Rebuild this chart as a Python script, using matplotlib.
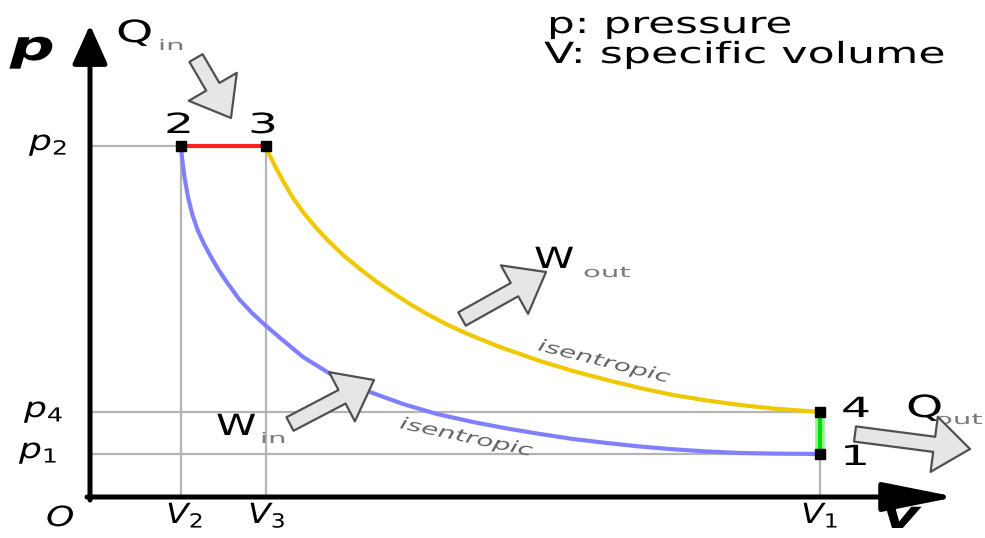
import matplotlib.pyplot as plt
from matplotlib.patches import FancyArrowPatch
from matplotlib.patheffects import AbstractPathEffect
from matplotlib.transforms import Affine2D

# state points (V in units of V2, p in units of p1)
V1, V2, V3 = 8.022, 1.000, 1.934
p1, p2, p4 = 1.000, 8.000, 1.955

# compression 1-2 (blue)
comp_V = [1.000, 1.014, 1.038, 1.077, 1.126, 1.187, 1.253, 1.330, 1.407, 1.495,
          1.637, 1.780, 1.923, 2.077, 2.341, 2.714, 3.077, 3.440, 3.813, 4.209,
          4.582, 4.945, 5.308, 5.681, 6.044, 6.407, 6.780, 7.143, 7.505, 8.022]
comp_p = [8.000, 7.682, 7.295, 6.841, 6.432, 6.068, 5.773, 5.477, 5.205, 4.932,
          4.523, 4.205, 3.932, 3.659, 3.205, 2.727, 2.409, 2.136, 1.909, 1.727,
          1.580, 1.455, 1.341, 1.250, 1.170, 1.107, 1.057, 1.023, 1.009, 1.000]

# expansion 3-4 (yellow)
exp_V = [1.934, 1.956, 2.033, 2.121, 2.231, 2.341, 2.473, 2.604, 2.780, 2.967,
         3.154, 3.330, 3.516, 3.703, 3.923, 4.176, 4.505, 4.945, 5.308, 5.681,
         6.044, 6.407, 6.780, 7.143, 7.505, 8.022]
exp_p = [8.000, 7.864, 7.545, 7.205, 6.818, 6.500, 6.170, 5.875, 5.523, 5.205,
         4.909, 4.659, 4.409, 4.182, 3.943, 3.705, 3.432, 3.114, 2.886, 2.682,
         2.500, 2.341, 2.216, 2.114, 2.034, 1.955]

# layout: origin of the diagram in pixels and pixels per unit
X0, Y0, SX, SY = 90, 498, 91, 44
W, H = 985, 538


def px(x, y):
    return ((x - X0) / SX, (Y0 - y) / SY)


class Stretch(AbstractPathEffect):
    # the reference lettering is drawn wide, so widen the glyphs
    def __init__(self, sx):
        super().__init__()
        self.sx = sx

    def draw_path(self, renderer, gc, tpath, affine, rgbFace=None):
        renderer.draw_path(gc, tpath, Affine2D().scale(self.sx, 1) + affine, rgbFace)


def label(x, y, s, size, sx, **kw):
    kw.setdefault('color', 'black')
    ax.text(*px(x, y), s, fontsize=size, ha='left', va='baseline',
            rotation_mode='anchor', path_effects=[Stretch(sx)], **kw)


fig = plt.figure(figsize=(W / 100, H / 100), dpi=100)
ax = fig.add_axes([0, 0, 1, 1])
ax.set_xlim(-X0 / SX, (W - X0) / SX)
ax.set_ylim(-(H - Y0) / SY, Y0 / SY)
ax.axis('off')

grey = '#b5b5b5'
# guide lines
ax.plot([0, V2], [p2, p2], color=grey, lw=1.6, zorder=1)
ax.plot([0, V1], [p4, p4], color=grey, lw=1.6, zorder=1)
ax.plot([0, V1], [p1, p1], color=grey, lw=1.6, zorder=1)
ax.plot([V2, V2], [0, p2], color=grey, lw=1.6, zorder=1)
ax.plot([V3, V3], [0, p2], color=grey, lw=1.6, zorder=1)
ax.plot([V1, V1], [0, p4], color=grey, lw=1.6, zorder=1)

# axes with arrow heads
ax.annotate('', xy=px(90, 25), xytext=px(90, 500),
            arrowprops=dict(arrowstyle='-|>,head_length=0.8,head_width=0.36',
                            mutation_scale=30, lw=3.6, color='black',
                            shrinkA=0, shrinkB=0), zorder=3)
ax.annotate('', xy=px(956, 497), xytext=px(87, 497),
            arrowprops=dict(arrowstyle='-|>,head_length=1.5,head_width=0.3',
                            mutation_scale=30, lw=3.6, color='black',
                            shrinkA=0, shrinkB=0), zorder=3)

# cycle
ax.plot(comp_V, comp_p, color='#8080ff', lw=3, zorder=4, solid_joinstyle='round')
ax.plot(exp_V, exp_p, color='#f0c800', lw=3, zorder=4, solid_joinstyle='round')
ax.plot([V2, V3], [p2, p2], color='#ff2020', lw=3, zorder=4)
ax.plot([V1, V1], [p1, p4], color='#9af09a', lw=7, zorder=4)
ax.plot([V1, V1], [p1, p4], color='#00e000', lw=3, zorder=5)
ax.plot([V2, V3, V1, V1], [p2, p2, p4, p1], 's', color='black', ms=7, zorder=6)

# state numbers
label(164, 133, '2', 20, 1.7)
label(248, 133, '3', 20, 1.7)
label(841, 417, '4', 20, 1.7)
label(840, 465, '1', 20, 1.7)

# axis labels
label(10, 60, 'p', 30, 1.5, fontstyle='italic', fontweight='bold')
label(882, 528, 'v', 28, 1.5, fontstyle='italic', fontweight='bold')
label(46, 526, 'O', 20, 1.3, fontstyle='italic')
label(29, 150, '$p_2$', 20, 1.3)
label(24, 417, '$p_4$', 20, 1.3)
label(19, 458, '$p_1$', 20, 1.3)
label(166, 523, '$V_2$', 20, 1.2)
label(248, 523, '$V_3$', 20, 1.2)
label(801, 523, '$V_1$', 20, 1.2)

# legend text
label(547, 33, 'p: pressure', 21, 1.5)
label(544, 63, 'V: specific volume', 21, 1.52)

# heat and work labels
sub = '#7a7a7a'
label(116, 42, 'Q', 22, 1.55)
label(158, 50, 'in', 10.5, 2.0, color=sub)
label(534, 268, 'W', 21, 1.4)
label(583, 277, 'out', 10.5, 2.0, color=sub)
label(216, 435, 'W', 21, 1.4)
label(260, 443, 'in', 10.5, 2.0, color=sub)
label(906, 417, 'Q', 22, 1.55)
label(935, 424, 'out', 10.5, 2.0, color=sub)

label(537, 350, 'isentropic', 12, 1.65, fontstyle='italic', color='#666666', rotation=-14)
label(399, 428, 'isentropic', 12, 1.65, fontstyle='italic', color='#666666', rotation=-12)

# block arrows for heat and work
block = 'simple,head_length=26,head_width=40,tail_width=11'
for tail, tip in [((196, 58), (231, 118)), ((290, 424), (374, 380)),
                  ((462, 319), (546, 272)), ((855, 434), (970, 449))]:
    ax.add_patch(FancyArrowPatch(px(*tail), px(*tip), arrowstyle=block, mutation_scale=1,
                                 facecolor='#e6e6e6', edgecolor='#505050', lw=1.6,
                                 shrinkA=0, shrinkB=0, zorder=7))

fig.savefig('out.png', dpi=100)
